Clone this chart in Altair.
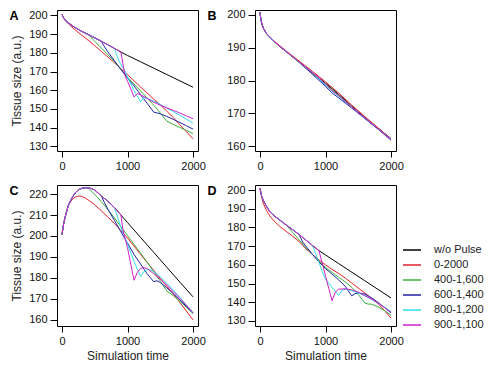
import altair as alt
import pandas as pd

SERIES = ["w/o Pulse", "0-2000", "400-1,600", "600-1,400", "800-1,200", "900-1,100"]
COLORS = ["#000000", "#e3202b", "#3aae3a", "#2323a8", "#33dcee", "#d21fcc"]
PULSE_START = [0, 0, 400, 600, 800, 900]
X_TICKS = [0, 1000, 2000]

# ---------------- Panel A ----------------
A_BLACK = [(0, 200.5), (25, 198.8), (50, 197.6), (100, 196), (150, 194.7), (200, 193.5), (300, 191.5),
           (400, 189.8), (500, 188), (600, 186.2), (700, 184.3), (800, 182.4), (900, 180.4), (1000, 178.6),
           (1200, 175.2), (1400, 171.8), (1600, 168.4), (1800, 165), (2000, 161.6)]
A_RED = [(0, 200.5), (25, 198.5), (50, 197.2), (100, 195.4), (200, 192.3), (300, 189.5), (400, 186.7),
         (500, 183.8), (600, 180.8), (700, 177.8), (800, 174.7), (900, 171.5), (1000, 168.4), (1100, 165),
         (1200, 161.7), (1300, 158.5), (1400, 155.3), (1500, 152.2), (1600, 148.8), (1700, 145.3),
         (1800, 141.5), (1900, 137.8), (2000, 134)]
A_GREEN = [(400, 189.8), (500, 186.2), (600, 182.6), (700, 179), (800, 175.3), (900, 171.2), (1000, 167),
           (1100, 163.3), (1200, 159.6), (1300, 155.8), (1400, 152), (1500, 147.8), (1600, 143.5),
           (1700, 141.7), (1800, 140.1), (1900, 138.5), (2000, 136.8)]
A_BLUE = [(600, 186.2), (650, 183.2), (700, 180.5), (800, 175.8), (900, 171), (1000, 166.5), (1100, 162.3),
          (1200, 157.6), (1300, 153), (1400, 148.3), (1500, 147.4), (1600, 146), (1700, 144.4),
          (1800, 142.7), (1900, 141), (2000, 139.2)]
A_CYAN = [(800, 182.4), (830, 179.5), (870, 175.5), (950, 171), (1000, 167), (1100, 159.8), (1200, 153.8),
          (1250, 156), (1300, 155.6), (1400, 154.2), (1500, 152.4), (1600, 150.5), (1800, 146.6), (2000, 142.4)]
A_MAGENTA = [(900, 180.4), (930, 174), (965, 167.6), (1000, 164.8), (1050, 160.7), (1100, 156.4),
             (1150, 158.2), (1200, 157.6), (1300, 155.6), (1400, 153.6), (1500, 152), (1600, 150.6),
             (1700, 149.2), (1800, 147.8), (1900, 146.3), (2000, 144.8)]

# ---------------- Panel B ----------------
B_BLACK = [(0, 200.8), (15, 198.5), (30, 197.2), (50, 196), (100, 194.3), (200, 192.2), (300, 190.4),
           (400, 188.8), (500, 187.2), (600, 185.6), (700, 184), (800, 182.4), (900, 180.8), (1000, 179.2),
           (1100, 177.5), (1200, 175.8), (1300, 174), (1400, 172.2), (1500, 170.5), (1600, 168.8),
           (1700, 167.1), (1800, 165.5), (1900, 163.9), (2000, 162.3)]
B_RED = [(0, 200.8), (15, 198.5), (30, 197.2), (50, 196), (100, 194.3), (200, 192.3), (400, 189),
         (600, 185.9), (800, 182.8), (1000, 179.6), (1200, 176.2), (1400, 172.5), (1600, 169),
         (1800, 165.6), (2000, 162.2)]
B_GREEN = [(400, 188.8), (600, 185.4), (800, 182.1), (1000, 178.9), (1200, 175.5), (1400, 172),
           (1600, 168.5), (1800, 165.2), (2000, 162)]
B_BLUE = [(600, 185.6), (800, 181.9), (1000, 178.2), (1100, 176.2), (1200, 174.7), (1400, 171.6),
          (1600, 168.4), (1800, 165.2), (2000, 161.8)]
B_CYAN = [(800, 182.4), (1000, 178.5), (1200, 175.1), (1400, 171.9), (1600, 168.6), (1800, 165.3), (2000, 162.1)]
B_MAGENTA = [(900, 180.8), (1000, 178.9), (1100, 176.9), (1200, 175.4), (1400, 171.9), (1600, 168.6),
             (1800, 165.3), (2000, 162)]

# ---------------- Panel C ----------------
C_BLACK = [(0, 200.7), (25, 205.8), (50, 209.3), (100, 214.8), (150, 218), (200, 220.5), (250, 222),
           (300, 222.7), (350, 223), (400, 222.9), (450, 222.6), (500, 221.9), (600, 219.1), (700, 216.6),
           (800, 213.6), (900, 210), (1000, 206.4), (1200, 199.3), (1400, 192.2), (1600, 185.1),
           (1800, 178), (2000, 171)]
C_RED = [(0, 200.7), (25, 205.5), (50, 209), (75, 212.5), (100, 214.8), (150, 217.2), (200, 218.5),
         (250, 219), (300, 218.9), (350, 218.2), (400, 217.2), (500, 214.9), (600, 212), (700, 209),
         (800, 206), (900, 202.5), (1000, 199), (1100, 195.2), (1200, 191.2), (1300, 187.4), (1400, 183.6),
         (1500, 179.8), (1600, 176), (1700, 172.3), (1800, 168.3), (1900, 164.2), (2000, 160)]
C_GREEN = [(400, 222.9), (500, 219.8), (600, 216.4), (700, 212.6), (800, 208.6), (900, 204.4), (1000, 200.2),
           (1100, 196), (1200, 191.8), (1300, 187.5), (1400, 183), (1500, 178.5), (1600, 173.8),
           (1700, 171.5), (1800, 168.8), (1900, 166), (2000, 163)]
C_BLUE = [(600, 219.1), (650, 215.8), (700, 212.8), (800, 207.4), (900, 202), (1000, 196.6), (1100, 191.2),
          (1200, 186.6), (1300, 182), (1400, 178.2), (1450, 178.7), (1500, 177.8), (1600, 175.3),
          (1700, 172.5), (1800, 169.5), (1900, 166.4), (2000, 163.2)]
C_CYAN = [(800, 213.6), (850, 208.8), (900, 204), (1000, 196), (1100, 188), (1150, 184.2), (1200, 180.8),
          (1250, 183), (1300, 184), (1350, 183.8), (1400, 183), (1500, 180.5), (1600, 177.4),
          (1700, 174.2), (1800, 170.7), (1900, 167.1), (2000, 163.5)]
C_MAGENTA = [(900, 210), (930, 203), (960, 199), (1000, 194.5), (1050, 186.5), (1100, 178.9), (1150, 182.6),
             (1200, 184.5), (1250, 185), (1300, 184.5), (1400, 182), (1500, 179.4), (1600, 176.6),
             (1700, 173.5), (1800, 170.3), (1900, 166.9), (2000, 163.4)]

# ---------------- Panel D ----------------
D_BLACK = [(0, 201), (25, 196.8), (50, 194.5), (75, 192.8), (100, 191.3), (150, 188.4), (200, 186.7),
           (300, 184), (400, 181.3), (500, 178.8), (600, 176.1), (700, 173.3), (800, 170.4), (900, 167.6),
           (1000, 165.3), (1200, 160.7), (1400, 156.1), (1600, 151.5), (1800, 146.9), (2000, 142.3)]
D_RED = [(0, 201), (25, 196.3), (50, 193), (100, 189), (150, 186.2), (200, 184), (300, 180.6), (400, 177.9),
         (500, 175.3), (600, 172.4), (700, 168.6), (800, 165.6), (900, 162.6), (1000, 160), (1100, 157.6),
         (1200, 155.4), (1300, 153), (1400, 150.3), (1500, 147.6), (1600, 145), (1700, 142.2),
         (1800, 139.4), (1900, 135.6), (2000, 131.5)]
D_GREEN = [(400, 181.3), (500, 177.3), (600, 173.2), (700, 169.2), (800, 165.6), (900, 162), (1000, 158.6),
           (1100, 156), (1200, 153.4), (1300, 150.9), (1400, 148), (1500, 144.2), (1600, 139.6),
           (1650, 139), (1700, 139), (1800, 137.6), (1900, 135.6), (2000, 133)]
D_BLUE = [(600, 176.1), (650, 172.2), (700, 170), (800, 165.6), (900, 161.6), (1000, 158), (1100, 155),
          (1200, 152), (1300, 148.6), (1400, 143.4), (1450, 144.6), (1500, 145), (1600, 144.4),
          (1700, 142.4), (1800, 140), (1900, 137.2), (2000, 134.3)]
D_CYAN = [(800, 170.4), (850, 166), (900, 161.4), (950, 156.4), (1000, 152.4), (1100, 148), (1200, 143.6),
          (1250, 146.4), (1300, 147), (1400, 146.2), (1500, 145), (1600, 143.4), (1700, 141.6),
          (1800, 139.6), (1900, 137.4), (2000, 135)]
D_MAGENTA = [(900, 167.6), (950, 161), (1000, 154.2), (1050, 147.4), (1100, 140.8), (1150, 145.4),
             (1200, 147), (1300, 147.2), (1400, 146.6), (1500, 145.5), (1600, 143.6), (1700, 141.8),
             (1800, 139.6), (1900, 137.2), (2000, 134.6)]

A_YDOMAIN, A_YTICKS = [127.5, 202.9], [130, 140, 150, 160, 170, 180, 190, 200]
B_YDOMAIN, B_YTICKS = [158.5, 201.5], [160, 170, 180, 190, 200]
C_YDOMAIN, C_YTICKS = [157.1, 224.3], [160, 170, 180, 190, 200, 210, 220]
D_YDOMAIN, D_YTICKS = [127.3, 202.7], [130, 140, 150, 160, 170, 180, 190, 200]

FONT = "Liberation Sans"
W = 141
H = 141


def build_df(curves):
    black = curves[0]
    rows = []
    for k, (name, pts) in enumerate(zip(SERIES, curves)):
        start = PULSE_START[k]
        full = pts if k < 2 else [p for p in black if p[0] < start] + pts
        for x, y in full:
            rows.append({"series": name, "x": x, "y": y, "k": k})
    return pd.DataFrame(rows)


def panel(letter, curves, ydom, yticks, ytitle, xtitle, legend):
    df = build_df(curves)
    yaxis = alt.Axis(values=yticks, title=ytitle, titleX=-34, titleY=H / 2, titleFontSize=12,
                     titleFont=FONT, titleFontWeight="normal", titleColor="#222222")
    xaxis = alt.Axis(values=X_TICKS, format="d", title=xtitle, titleY=29, titleBaseline="middle",
                     titleFontSize=12, titleFont=FONT, titleFontWeight="normal", titleColor="#222222")
    if legend:
        leg = alt.Legend(orient="none", legendX=147, legendY=55, title=None, symbolType="stroke",
                         symbolSize=324, symbolStrokeWidth=1.5, labelFontSize=11, labelFont=FONT,
                         labelColor="#222222", rowPadding=0, labelOffset=12, padding=0)
    else:
        leg = None
    lines = alt.Chart(df).mark_line(strokeWidth=1, clip=True).encode(
        x=alt.X("x:Q", scale=alt.Scale(domain=[-76, 2076], nice=False, zero=False), axis=xaxis),
        y=alt.Y("y:Q", scale=alt.Scale(domain=ydom, nice=False, zero=False), axis=yaxis),
        color=alt.Color("series:N", scale=alt.Scale(domain=SERIES, range=COLORS), sort=SERIES, legend=leg),
        order=alt.Order("x:Q"),
    )
    lab = alt.Chart(pd.DataFrame({"t": [letter]})).mark_text(
        font=FONT, fontSize=12.5, fontWeight="bold", align="center", baseline="middle", color="#000000"
    ).encode(text="t:N", x=alt.value(-43), y=alt.value(6))
    return alt.layer(lines, lab).properties(width=W, height=H)


pa = panel("A", [A_BLACK, A_RED, A_GREEN, A_BLUE, A_CYAN, A_MAGENTA], A_YDOMAIN, A_YTICKS,
           "Tissue size (a.u.)", "", False)
pb = panel("B", [B_BLACK, B_RED, B_GREEN, B_BLUE, B_CYAN, B_MAGENTA], B_YDOMAIN, B_YTICKS, "", "", False)
pc = panel("C", [C_BLACK, C_RED, C_GREEN, C_BLUE, C_CYAN, C_MAGENTA], C_YDOMAIN, C_YTICKS,
           "Tissue size (a.u.)", "Simulation time", False)
pd_ = panel("D", [D_BLACK, D_RED, D_GREEN, D_BLUE, D_CYAN, D_MAGENTA], D_YDOMAIN, D_YTICKS,
            "", "Simulation time", True)

chart = alt.concat(pa, pb, pc, pd_, columns=2, spacing={"row": 34, "column": 57}, bounds="flush",
                   padding=0).resolve_scale(color="independent").resolve_legend(color="independent")
chart = chart.configure_view(stroke="#000000", strokeWidth=1).configure_axis(
    domain=False, grid=False, tickColor="#000000", tickSize=7, labelFont=FONT, labelFontSize=11,
    labelColor="#111111", labelPadding=3
).configure_axisX(tickSize=6)

chart.save("out.html", embed_options={"renderer": "svg", "actions": False})
